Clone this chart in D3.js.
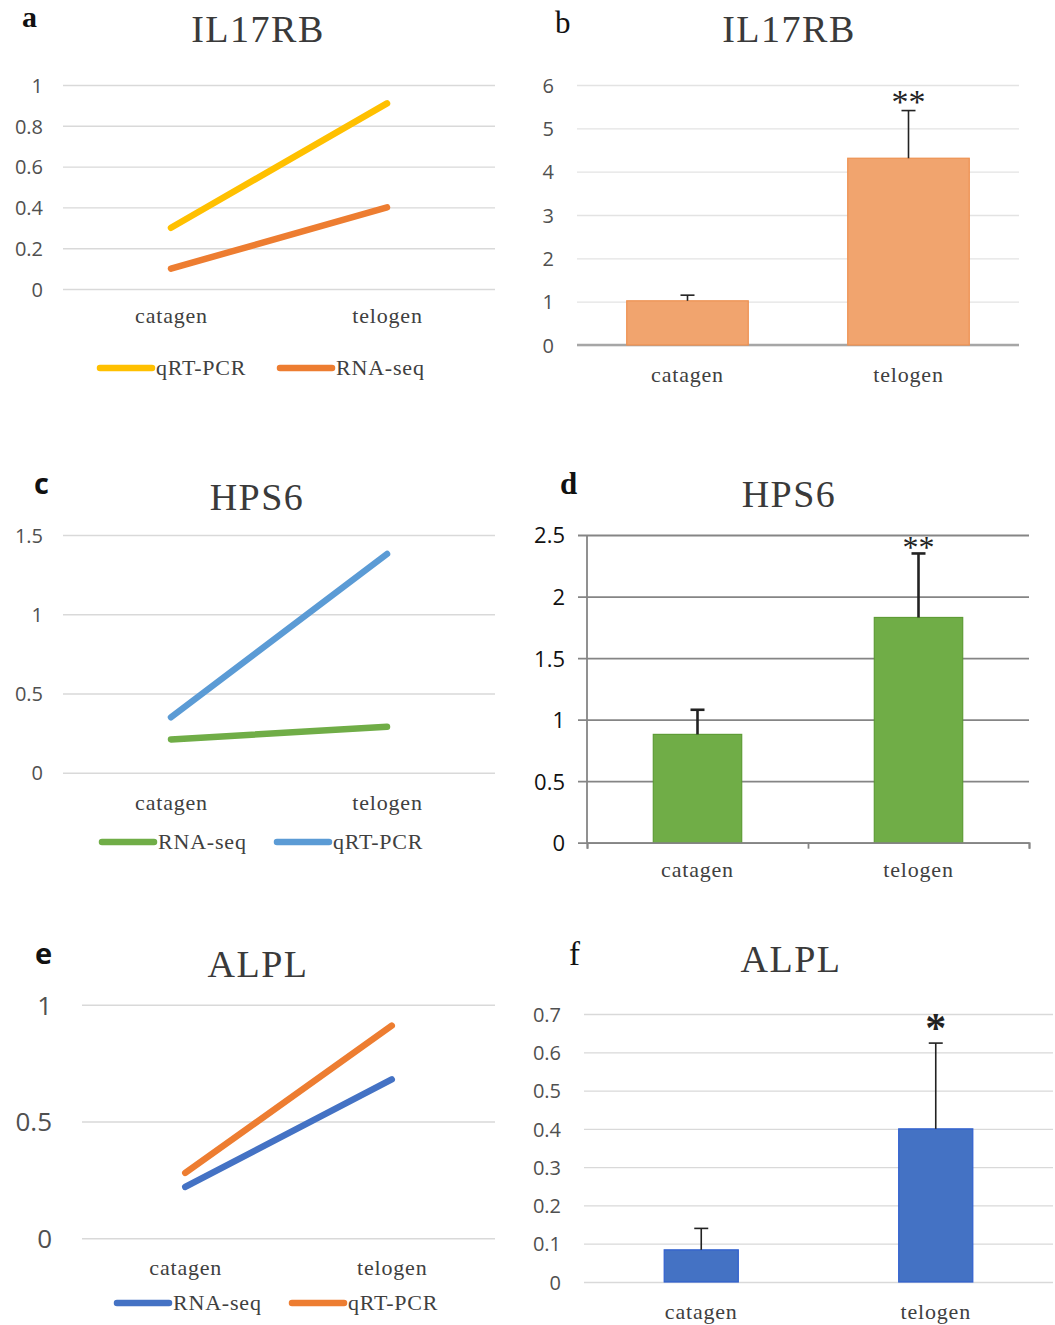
<!DOCTYPE html>
<html lang="en">
<head>
<meta charset="utf-8">
<title>IL17RB, HPS6, ALPL: RNA-seq vs qRT-PCR</title>
<script src="https://cdn.jsdelivr.net/npm/d3@7"></script>
<style>
  body { margin: 0; background: #fff; }
  svg { display: block; }
  .serif { font-family: "Liberation Serif", "Times New Roman", serif; }
  .sans { font-family: "Open Sans", "Noto Sans", sans-serif; }
</style>
</head>
<body>
<div id="chart"></div>
<script>
// categories
var stages = ["catagen", "telogen"];

// IL17RB
var il17rbQrt = [0.30, 0.91];
var il17rbRna = [0.10, 0.40];
var il17rbBar = [1.02, 4.31];
var il17rbErr = [0.13, 1.10];
var il17rbSig = ["", "**"];
var il17rbLineTicks = [0, 0.2, 0.4, 0.6, 0.8, 1];
var il17rbBarTicks = [0, 1, 2, 3, 4, 5, 6];

// HPS6
var hps6Rna = [0.21, 0.29];
var hps6Qrt = [0.35, 1.38];
var hps6Bar = [0.88, 1.83];
var hps6Err = [0.20, 0.52];
var hps6Sig = ["", "**"];
var hps6LineTicks = [0, 0.5, 1, 1.5];
var hps6BarTicks = [0, 0.5, 1, 1.5, 2, 2.5];

// ALPL
var alplRna = [0.22, 0.68];
var alplQrt = [0.28, 0.91];
var alplBar = [0.084, 0.40];
var alplErr = [0.056, 0.224];
var alplSig = ["", "*"];
var alplLineTicks = [0, 0.5, 1];
var alplBarTicks = [0, 0.1, 0.2, 0.3, 0.4, 0.5, 0.6, 0.7];

var W = 1055, H = 1325;
var svg = d3.select("#chart").append("svg")
    .attr("width", W)
    .attr("height", H);

var textGrey = "#404040";

function panelText(t) {
  // panel letter
  svg.append("text")
      .attr("class", t.letterSans ? "sans" : "serif")
      .attr("x", t.letterX).attr("y", t.letterY)
      .attr("font-size", t.letterFs)
      .attr("font-weight", t.letterBold ? "bold" : "normal")
      .attr("fill", "#111")
      .text(t.letter);
  // title
  svg.append("text")
      .attr("class", "serif")
      .attr("x", t.titleX).attr("y", t.titleY)
      .attr("text-anchor", "middle")
      .attr("font-size", 38)
      .attr("letter-spacing", "1.5px")
      .attr("fill", "#3a3a3a")
      .text(t.title);
}

function yGrid(g, y, ticks, width, o) {
  g.call(d3.axisLeft(y)
      .tickValues(ticks)
      .tickSize(-width)
      .tickPadding(o.pad)
      .tickFormat(function(d) { return String(d); }));
  g.select(".domain").remove();
  g.selectAll(".tick line")
      .attr("stroke", o.gridColor)
      .attr("stroke-width", o.gridWidth);
  g.selectAll(".tick text")
      .attr("class", "sans")
      .attr("font-size", o.fs)
      .attr("fill", o.tickColor)
      .attr("dy", "0.36em");
}

function catLabels(x, yPos, fs) {
  var g = svg.append("g")
      .attr("transform", "translate(0," + yPos + ")")
      .call(d3.axisBottom(x).tickSize(0).tickPadding(0));
  g.select(".domain").remove();
  g.selectAll(".tick text")
      .attr("class", "serif")
      .attr("font-size", fs)
      .attr("letter-spacing", "0.8px")
      .attr("fill", textGrey)
      .attr("y", 0)
      .attr("dy", "0.3em");
}

function linePanel(p) {
  panelText(p);
  var x = d3.scalePoint().domain(stages).range([p.x0, p.x1]).padding(0.5);
  var y = d3.scaleLinear().domain([0, p.ymax]).range([p.yZero, p.yTop]);

  var grid = svg.append("g").attr("transform", "translate(" + p.x0 + ",0)");
  yGrid(grid, y, p.ticks, p.x1 - p.x0,
        {pad: p.x0 - p.labelRight, gridColor: "#d9d9d9", gridWidth: 1.4,
         fs: p.tickFs, tickColor: "#505050"});

  var line = d3.line()
      .x(function(d, i) { return x(stages[i]); })
      .y(function(d) { return y(d); });

  p.series.forEach(function(s) {
    svg.append("path")
        .datum(s.values)
        .attr("d", line)
        .attr("fill", "none")
        .attr("stroke", s.color)
        .attr("stroke-width", 6.5)
        .attr("stroke-linecap", "round");
  });

  catLabels(x, p.catY, 22);

  // legend
  p.series.forEach(function(s, i) {
    var lx = p.legendX[i];
    svg.append("line")
        .attr("x1", lx).attr("x2", lx + 52)
        .attr("y1", p.legendY).attr("y2", p.legendY)
        .attr("stroke", s.color)
        .attr("stroke-width", 6.5)
        .attr("stroke-linecap", "round");
    svg.append("text")
        .attr("class", "serif")
        .attr("x", lx + 56).attr("y", p.legendY)
        .attr("dy", "0.33em")
        .attr("font-size", 22)
        .attr("letter-spacing", "0.8px")
        .attr("fill", textGrey)
        .text(s.name);
  });
}

function barPanel(p) {
  panelText(p);
  var x = d3.scaleBand().domain(stages).range([p.x0, p.x1])
      .paddingInner(1 - p.barFrac).paddingOuter((1 - p.barFrac) / 2);
  var y = d3.scaleLinear().domain([0, p.ymax]).range([p.yZero, p.yTop]);

  var gx0 = p.gridX0 || p.x0;
  var grid = svg.append("g").attr("transform", "translate(" + gx0 + ",0)");
  yGrid(grid, y, p.ticks, p.x1 - gx0,
        {pad: gx0 - p.labelRight, gridColor: p.gridColor, gridWidth: p.gridWidth,
         fs: p.tickFs, tickColor: p.tickColor});

  if (p.baseLine) {
    svg.append("line")
        .attr("x1", p.x0).attr("x2", p.x1)
        .attr("y1", y(0)).attr("y2", y(0))
        .attr("stroke", p.baseLine)
        .attr("stroke-width", 2.5);
  }

  svg.selectAll(null)
      .data(p.values)
      .enter()
      .append("rect")
        .attr("x", function(d, i) { return x(stages[i]); })
        .attr("y", function(d) { return y(d); })
        .attr("width", x.bandwidth())
        .attr("height", function(d) { return y(0) - y(d); })
        .attr("fill", p.color)
        .attr("stroke", p.edge)
        .attr("stroke-width", 1.2);

  // error bars (upper half only)
  var cx = function(i) { return x(stages[i]) + x.bandwidth() / 2; };
  p.values.forEach(function(v, i) {
    var top = y(v + p.errors[i]);
    svg.append("line")
        .attr("x1", cx(i)).attr("x2", cx(i))
        .attr("y1", y(v)).attr("y2", top)
        .attr("stroke", "#222").attr("stroke-width", p.errWidth);
    svg.append("line")
        .attr("x1", cx(i) - 7).attr("x2", cx(i) + 7)
        .attr("y1", top).attr("y2", top)
        .attr("stroke", "#222").attr("stroke-width", p.errWidth);
    if (p.sig[i]) {
      svg.append("text")
          .attr("class", "serif")
          .attr("x", cx(i))
          .attr("y", top - p.sigGap + 0.475 * p.sigFs)
          .attr("text-anchor", "middle")
          .attr("font-size", p.sigFs)
          .attr("font-weight", p.sigBold ? "bold" : "normal")
          .attr("fill", "#222")
          .text(p.sig[i]);
    }
  });

  if (p.frame) {
    // left axis and bottom ticks at category boundaries
    svg.append("line")
        .attr("x1", p.x0).attr("x2", p.x0)
        .attr("y1", y(p.ymax)).attr("y2", y(0))
        .attr("stroke", p.gridColor).attr("stroke-width", p.gridWidth);
    var edge = d3.scaleLinear().domain([0, stages.length]).range([p.x0, p.x1]);
    var bx = svg.append("g")
        .attr("transform", "translate(0," + y(0) + ")")
        .call(d3.axisBottom(edge).tickValues(d3.range(stages.length + 1))
              .tickSize(6).tickFormat(""));
    bx.selectAll("path, line")
        .attr("stroke", p.gridColor).attr("stroke-width", p.gridWidth);
  }

  catLabels(x, p.catY, 22);
}

linePanel({
  letter: "a", letterX: 22, letterY: 27, letterFs: 30, letterBold: true,
  title: "IL17RB", titleX: 258, titleY: 42,
  x0: 63, x1: 495, yZero: 289, yTop: 85, ymax: 1,
  ticks: il17rbLineTicks, tickFs: 20, labelRight: 43,
  series: [
    {name: "qRT-PCR", values: il17rbQrt, color: "#FFC000"},
    {name: "RNA-seq", values: il17rbRna, color: "#ED7D31"}
  ],
  catY: 316, legendY: 368, legendX: [100, 280]
});

barPanel({
  letter: "b", letterX: 555, letterY: 33, letterFs: 31,
  title: "IL17RB", titleX: 789, titleY: 42,
  x0: 577, x1: 1019, yZero: 345, yTop: 85, ymax: 6,
  ticks: il17rbBarTicks, tickFs: 20, labelRight: 554, tickColor: "#505050",
  gridColor: "#e3e3e3", gridWidth: 1.3, baseLine: "#a6a6a6",
  values: il17rbBar, errors: il17rbErr, sig: il17rbSig,
  barFrac: 0.55, color: "#F1A46E", edge: "#EE9150", errWidth: 1.6,
  sigFs: 34, sigGap: 14,
  catY: 375
});

linePanel({
  letter: "c", letterSans: true, letterBold: true, letterX: 34, letterY: 494, letterFs: 29,
  title: "HPS6", titleX: 257, titleY: 510,
  x0: 63, x1: 495, yZero: 772.7, yTop: 535, ymax: 1.5,
  ticks: hps6LineTicks, tickFs: 20, labelRight: 43,
  series: [
    {name: "RNA-seq", values: hps6Rna, color: "#70AD47"},
    {name: "qRT-PCR", values: hps6Qrt, color: "#5B9BD5"}
  ],
  catY: 803, legendY: 842, legendX: [102, 277]
});

barPanel({
  letter: "d", letterX: 560, letterY: 494, letterFs: 31, letterBold: true,
  title: "HPS6", titleX: 789, titleY: 507,
  x0: 587, x1: 1029, gridX0: 578, yZero: 842.7, yTop: 535, ymax: 2.5,
  ticks: hps6BarTicks, tickFs: 22, labelRight: 565, tickColor: "#111",
  gridColor: "#858585", gridWidth: 1.8, frame: true,
  values: hps6Bar, errors: hps6Err, sig: hps6Sig,
  barFrac: 0.4, color: "#70AD47", edge: "#5E9C36", errWidth: 2.6,
  sigFs: 32, sigGap: 11,
  catY: 870
});

linePanel({
  letter: "e", letterSans: true, letterBold: true, letterX: 35, letterY: 964, letterFs: 29,
  title: "ALPL", titleX: 258, titleY: 977,
  x0: 82, x1: 495, yZero: 1238.3, yTop: 1004.7, ymax: 1,
  ticks: alplLineTicks, tickFs: 26, labelRight: 52,
  series: [
    {name: "RNA-seq", values: alplRna, color: "#4472C4"},
    {name: "qRT-PCR", values: alplQrt, color: "#ED7D31"}
  ],
  catY: 1268, legendY: 1303, legendX: [117, 292]
});

barPanel({
  letter: "f", letterX: 569, letterY: 965, letterFs: 33,
  title: "ALPL", titleX: 791, titleY: 972,
  x0: 584, x1: 1053, yZero: 1282, yTop: 1014, ymax: 0.7,
  ticks: alplBarTicks, tickFs: 20, labelRight: 561, tickColor: "#505050",
  gridColor: "#d9d9d9", gridWidth: 1.3,
  values: alplBar, errors: alplErr, sig: alplSig,
  barFrac: 0.316, color: "#4472C4", edge: "#2F5FCF", errWidth: 1.6,
  sigFs: 42, sigBold: true, sigGap: 21,
  catY: 1312
});
</script>
</body>
</html>
